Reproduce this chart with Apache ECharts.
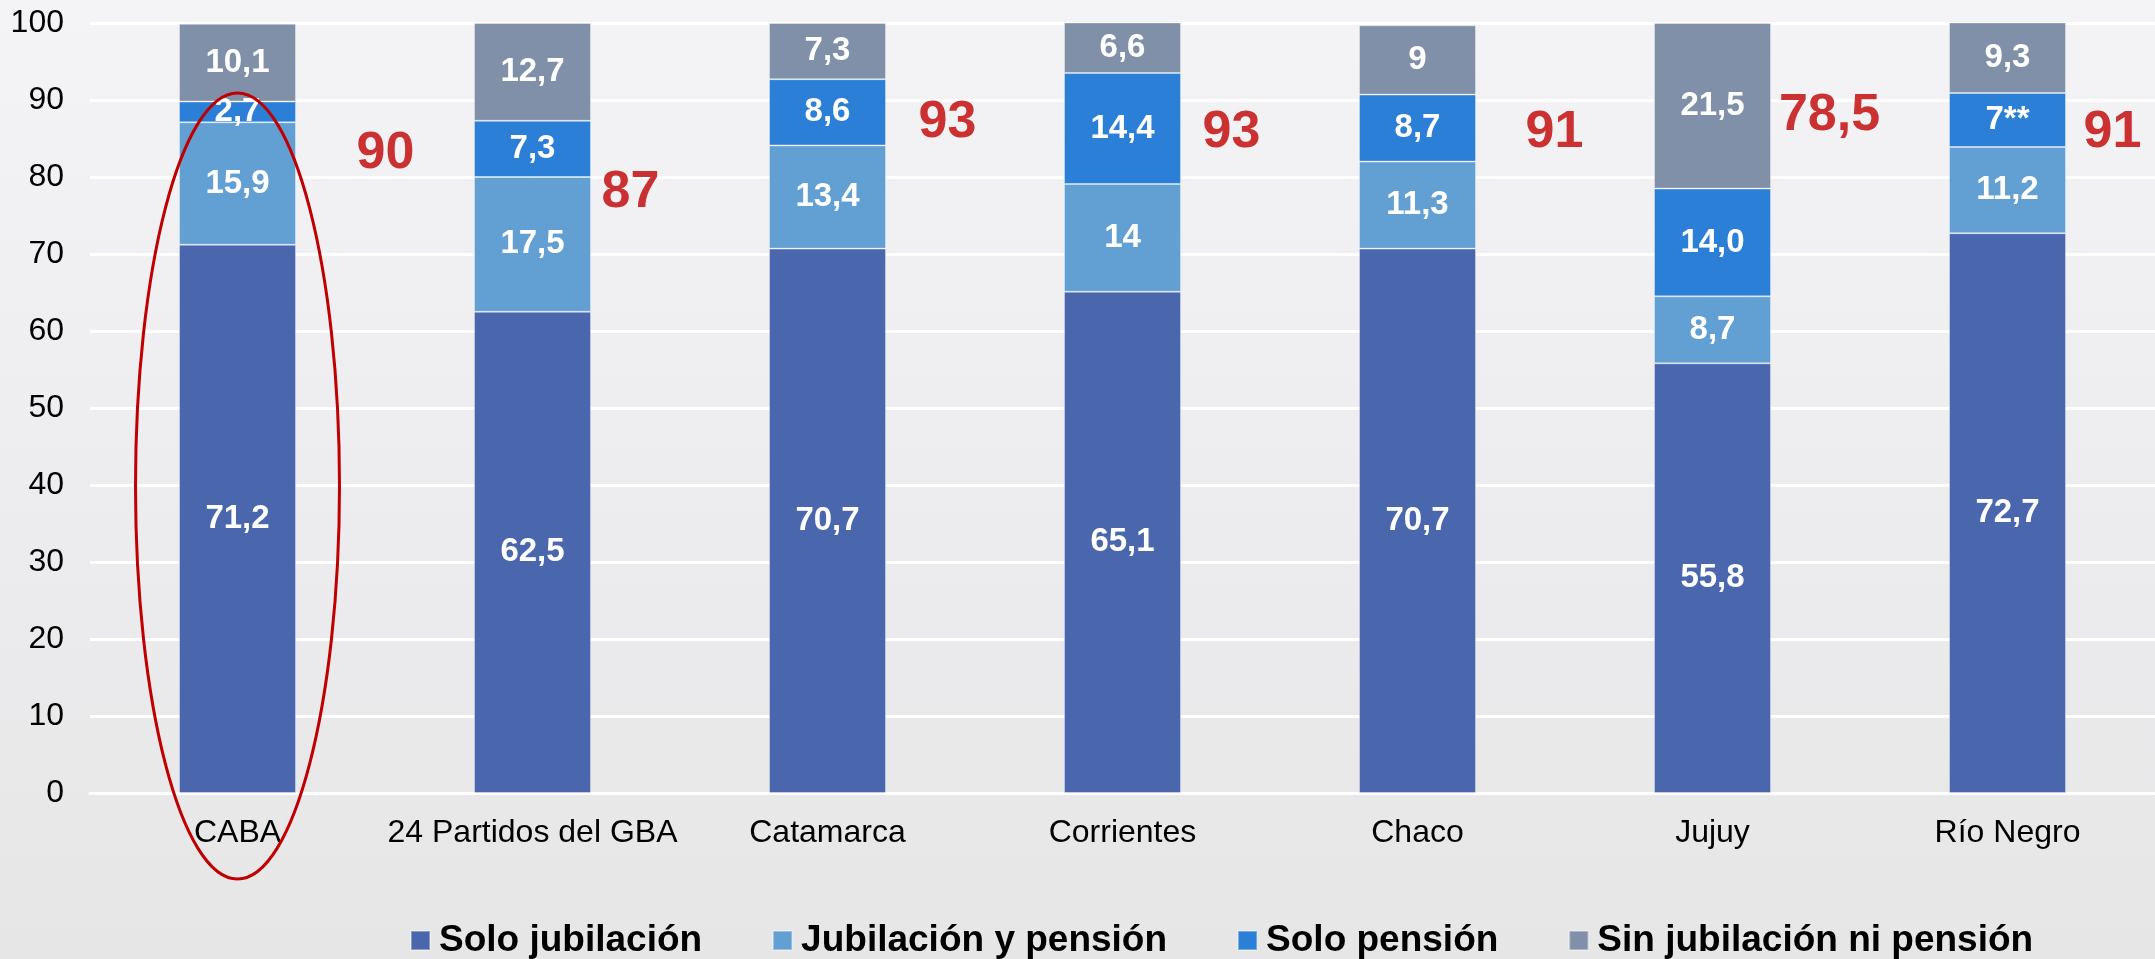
<!DOCTYPE html>
<html>
<head>
<meta charset="utf-8">
<script src="https://cdn.jsdelivr.net/npm/echarts@6/dist/echarts.min.js"></script>
<style>
html,body{margin:0;padding:0;}
#main{width:2155px;height:959px;}
</style>
</head>
<body>
<div id="main"></div>
<script>
// categorias
var regiones = ['CABA', '24 Partidos del GBA', 'Catamarca', 'Corrientes', 'Chaco', 'Jujuy', 'Río Negro'];
// valores tal como aparecen en el grafico
var soloJubilacion = ['71,2', '62,5', '70,7', '65,1', '70,7', '55,8', '72,7'];
var jubilacionPension = ['15,9', '17,5', '13,4', '14', '11,3', '8,7', '11,2'];
var soloPension = ['2,7', '7,3', '8,6', '14,4', '8,7', '14,0', '7**'];
var sinNada = ['10,1', '12,7', '7,3', '6,6', '9', '21,5', '9,3'];
// totales en rojo
var totales = ['90', '87', '93', '93', '91', '78,5', '91'];
var ticksY = [0, 10, 20, 30, 40, 50, 60, 70, 80, 90, 100];

// ubicacion de las notas rojas (desplazamiento px, altura en el eje)
var notaDx = [148, 98, 120, 109, 137, 117, 105];
var notaY = [83, 78, 87, 85.7, 85.7, 88, 85.7];

function num(s) {
    return parseFloat(s.replace(',', '.').replace(/\*/g, ''));
}

var colores = ['#4a67ae', '#629fd3', '#2b7fd6', '#8090a9'];
var nombres = ['Solo jubilación', 'Jubilación y pensión', 'Solo pensión', 'Sin jubilación ni pensión'];
var listas = [soloJubilacion, jubilacionPension, soloPension, sinNada];

var series = listas.map(function (lista, i) {
    return {
        name: nombres[i],
        type: 'bar',
        stack: 'total',
        barWidth: 117,
        itemStyle: {color: colores[i], borderColor: 'rgba(255,255,255,0.35)', borderWidth: 1},
        label: {
            show: true,
            position: 'inside',
            color: '#fff',
            fontWeight: 'bold',
            fontSize: 33,
            fontFamily: 'Liberation Sans, Arial, sans-serif',
            formatter: function (p) { return lista[p.dataIndex]; }
        },
        data: lista.map(num)
    };
});

series.push({
    name: 'totales',
    type: 'scatter',
    symbolSize: 0,
    silent: true,
    z: 5,
    data: notaY.map(function (v, i) { return [i, v]; }),
    label: {
        show: true,
        position: 'inside',
        color: '#c00000',
        fontWeight: 'bold',
        fontSize: 52,
        fontFamily: 'Liberation Sans, Arial, sans-serif',
        formatter: function (p) { return totales[p.dataIndex]; }
    },
    labelLayout: function (params) {
        return {dx: notaDx[params.dataIndex]};
    }
});

var myChart = echarts.init(document.getElementById('main'));
var option = {
    backgroundColor: new echarts.graphic.LinearGradient(0, 0, 0, 1, [
        {offset: 0, color: '#f4f4f7'},
        {offset: 1, color: '#e6e6e7'}
    ]),
    animation: false,
    grid: {left: 90, right: 0, top: 23, bottom: 166},
    legend: {
        data: nombres,
        left: 405,
        top: 917,
        itemWidth: 19,
        itemHeight: 19,
        itemGap: 70,
        icon: 'rect',
        textStyle: {
            fontSize: 37,
            fontWeight: 'bold',
            color: '#000',
            padding: [0, 0, 0, 4],
            fontFamily: 'Liberation Sans, Arial, sans-serif'
        }
    },
    xAxis: {
        type: 'category',
        data: regiones,
        axisLine: {lineStyle: {color: '#ffffff', width: 3}},
        axisTick: {show: false},
        axisLabel: {interval: 0, fontSize: 32, color: '#000', margin: 24, fontFamily: 'Liberation Sans, Arial, sans-serif'}
    },
    yAxis: {
        type: 'value',
        min: 0,
        max: 100,
        interval: 10,
        axisLine: {show: false},
        axisTick: {show: false},
        splitLine: {lineStyle: {color: '#ffffff', width: 3}},
        axisLabel: {
            fontSize: 32, color: '#000', margin: 26, fontFamily: 'Liberation Sans, Arial, sans-serif',
            formatter: function (v) { return ticksY.indexOf(v) >= 0 ? String(v) : ''; }
        }
    },
    series: series
};
myChart.setOption(option);

// elipse roja alrededor de CABA
var centro = myChart.convertToPixel({xAxisIndex: 0, yAxisIndex: 0}, [0, 40]);
myChart.setOption({
    graphic: [{
        type: 'ellipse',
        shape: {cx: centro[0], cy: 486, rx: 102, ry: 393},
        style: {fill: 'none', stroke: '#c00000', lineWidth: 3},
        z: 10
    }]
});
</script>
</body>
</html>
